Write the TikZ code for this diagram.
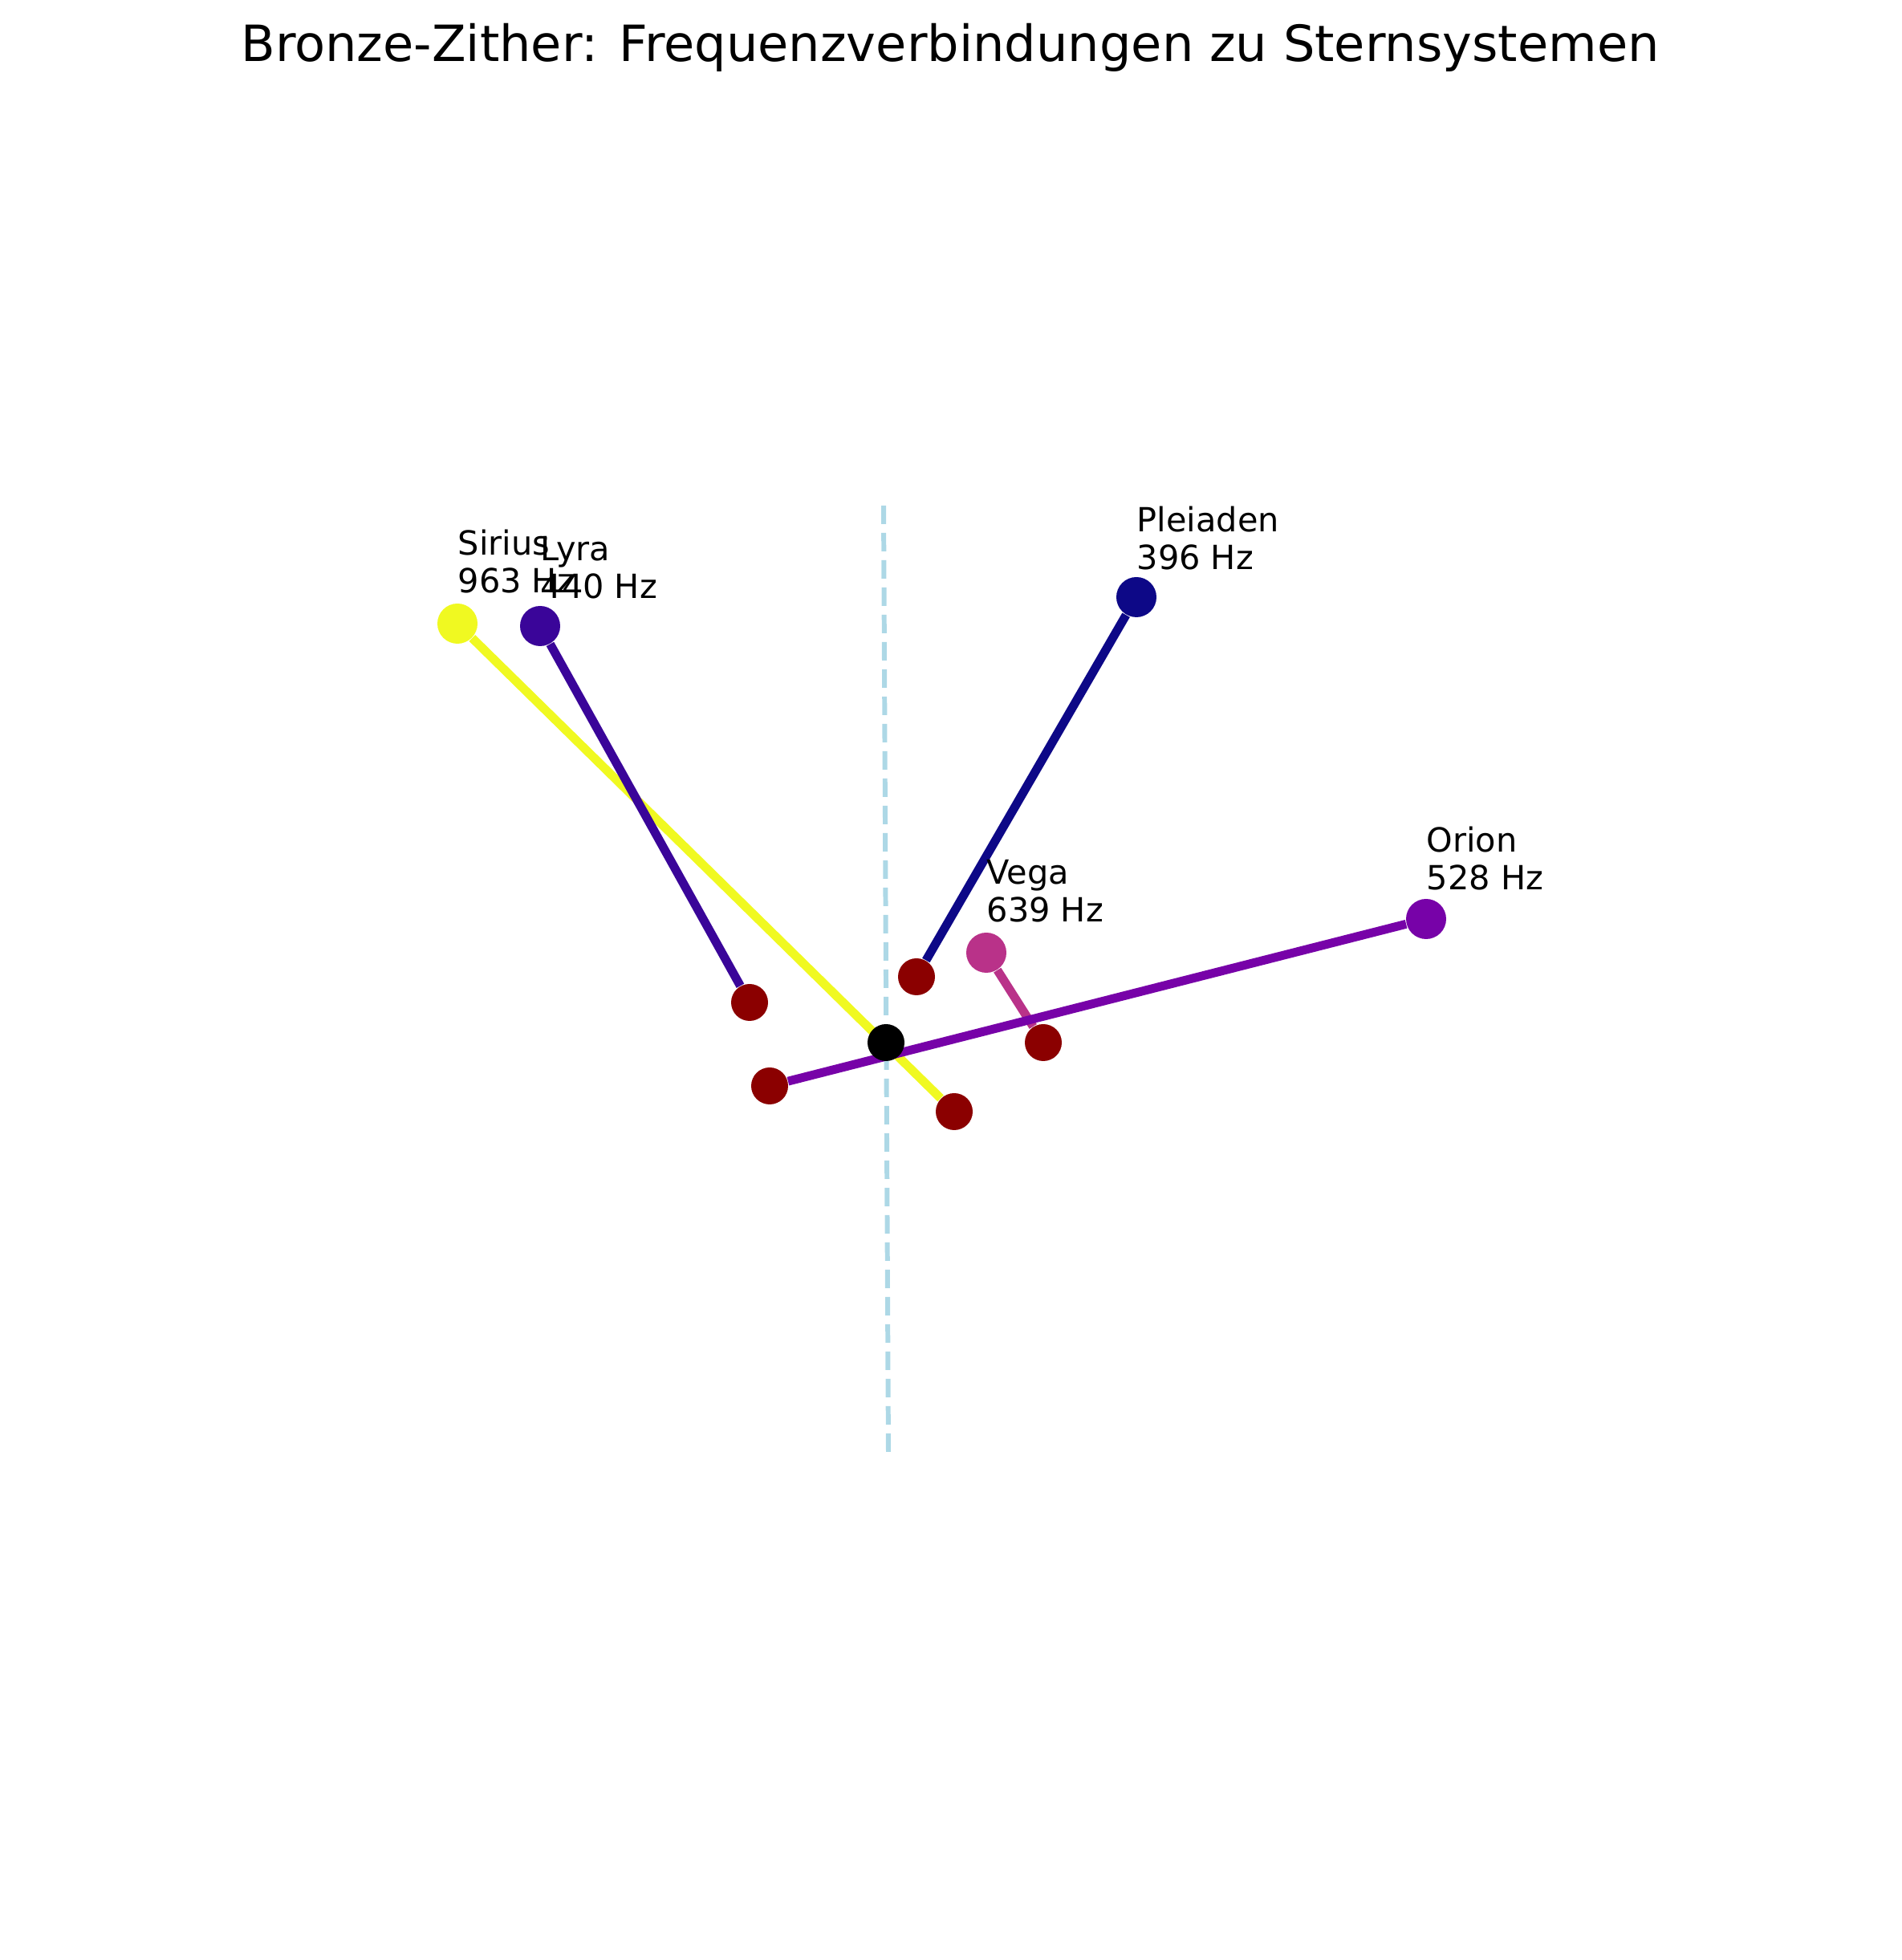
\documentclass[tikz,border=0pt]{standalone}
\usepackage{fontspec}
\setmainfont{DejaVu Sans}
\usetikzlibrary{positioning}
\definecolor{pleiadescol}{HTML}{0D0887}
\definecolor{lyracol}{HTML}{3A0599}
\definecolor{orioncol}{HTML}{7702A8}
\definecolor{vegacol}{HTML}{B93289}
\definecolor{siriuscol}{HTML}{F0F921}
\definecolor{enddotcol}{HTML}{8B0000}
\definecolor{axiscol}{HTML}{ADD8E6}
\pgfdeclarelayer{bg}
\pgfsetlayers{bg,main}
\tikzset{
  stardot/.style={circle, fill=#1, minimum size=0.5cm, inner sep=0pt},
  enddot/.style={circle, fill=enddotcol, minimum size=0.46cm, inner sep=0pt},
  link/.style={draw=#1, line width=3.1pt},
  starlabel/.style={inner sep=0pt, align=left, font=\fontsize{11.8}{13.3}\selectfont},
}
\begin{document}
\begin{tikzpicture}
  \useasboundingbox (0,0) rectangle (23.7,24.42);
  % title
  \node (title) [anchor=base, font=\fontsize{17.7}{21}\selectfont] at (11.84,23.65)
    {Bronze-Zither: Frequenzverbindungen zu Sternsystemen};
  % zither string (dashed axis)
  \coordinate (axistop) at (11.01,18.12);
  \coordinate (axisbot) at (11.07,6.30);
  % centre
  \node (centre) [circle, fill=black, minimum size=0.46cm, inner sep=0pt] at (11.04,11.43) {};
  % star systems
  \node (sirius)   [stardot=siriuscol]   at (5.70,16.65) {};
  \node (lyra)     [stardot=lyracol]     at (6.73,16.62) {};
  \node (pleiaden) [stardot=pleiadescol] at (14.16,16.98) {};
  \node (vega)     [stardot=vegacol]     at (12.29,12.55) {};
  \node (orion)    [stardot=orioncol]    at (17.77,12.97) {};
  % string ends
  \node (siriusend)   [enddot] at (11.89,10.57) {};
  \node (lyraend)     [enddot] at (9.34,11.93) {};
  \node (pleiadenend) [enddot] at (11.42,12.25) {};
  \node (vegaend)     [enddot] at (13.00,11.43) {};
  \node (orionend)    [enddot] at (9.59,10.89) {};
  % labels
  \node (siriuslbl)   [starlabel, above right=0.37cm and 0cm of sirius.center]   {Sirius\\963 Hz};
  \node (lyralbl)     [starlabel, above right=0.33cm and 0cm of lyra.center]     {Lyra\\440 Hz};
  \node (pleiadenlbl) [starlabel, above right=0.33cm and 0cm of pleiaden.center] {Pleiaden\\396 Hz};
  \node (vegalbl)     [starlabel, above right=0.37cm and 0cm of vega.center]     {Vega\\639 Hz};
  \node (orionlbl)    [starlabel, above right=0.35cm and 0cm of orion.center]    {Orion\\528 Hz};
  % connections
  \begin{pgfonlayer}{bg}
    \draw[axiscol, line width=1.7pt, dash pattern=on 0.23cm off 0.11cm] (axistop) -- (axisbot);
    \draw[link=siriuscol]   (sirius) -- (siriusend);
    \draw[link=lyracol]     (lyra) -- (lyraend);
    \draw[link=pleiadescol] (pleiaden) -- (pleiadenend);
    \draw[link=vegacol]     (vega) -- (vegaend);
    \draw[link=orioncol]    (orion) -- (orionend);
  \end{pgfonlayer}
\end{tikzpicture}
\end{document}
